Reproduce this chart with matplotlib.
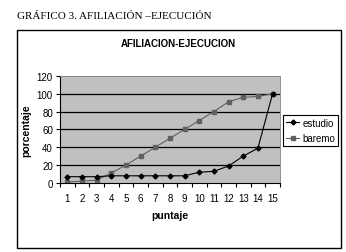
import numpy as np
import matplotlib
matplotlib.use("Agg")
import matplotlib.pyplot as plt
from matplotlib.patches import Rectangle
from matplotlib.ticker import FixedLocator

# data
puntaje = list(range(1, 16))
estudio = [7, 7, 7, 8, 8, 8, 8, 8, 8, 12, 13, 19, 30, 39, 100]
baremo = [1, 2, 3, 11, 20, 30, 40, 50, 60, 70, 80, 91, 96, 97, 100]
y_ticks = [0, 20, 40, 60, 80, 100, 120]

sans = ['Liberation Sans Narrow', 'Liberation Sans', 'DejaVu Sans']

fig = plt.figure(figsize=(3.46, 2.53), dpi=100)

# outer chart frame
fig.patches.append(Rectangle((0.049, 0.016), 0.937, 0.861, transform=fig.transFigure,
                             fill=False, edgecolor='black', linewidth=1.0))

fig.text(0.049, 0.935, 'GRÁFICO 3. AFILIACIÓN –EJECUCIÓN', family='Liberation Serif',
         fontsize=8, ha='left', va='center')
fig.text(0.515, 0.825, 'AFILIACION-EJECUCION', family=sans, fontweight='bold',
         fontsize=7, ha='center', va='center')

ax = fig.add_axes([0.173, 0.273, 0.636, 0.423])
ax.set_facecolor('#c0c0c0')
for y in y_ticks[1:-1]:
    ax.axhline(y, color='black', linewidth=0.9, zorder=1)

ax.plot(puntaje, estudio, color='black', linewidth=0.8, marker='D', markersize=2.5,
        label='estudio', zorder=3)
ax.plot(puntaje, baremo, color='#606060', linewidth=0.8, marker='s', markersize=3,
        label='baremo', zorder=2)

ax.set_xlim(0.5, 15.5)
ax.set_ylim(0, 120)
ax.xaxis.set_major_locator(FixedLocator(np.arange(0.5, 16, 1)))
ax.xaxis.set_minor_locator(FixedLocator(puntaje))
ax.set_xticklabels([])
ax.set_xticklabels([str(p) for p in puntaje], minor=True)
ax.tick_params(axis='x', which='major', direction='out', length=3, width=0.8)
ax.tick_params(axis='x', which='minor', length=0, pad=7, labelsize=7)
ax.set_yticks(y_ticks)
ax.tick_params(axis='y', direction='out', length=3, width=0.8, labelsize=7, pad=2)
for lbl in ax.get_xticklabels(minor=True) + ax.get_yticklabels():
    lbl.set_family(sans)

for side in ['left', 'bottom']:
    ax.spines[side].set_linewidth(0.8)
for side in ['top', 'right']:
    ax.spines[side].set_color('#808080')
    ax.spines[side].set_linewidth(0.6)

ax.set_xlabel('puntaje', family=sans, fontweight='bold', fontsize=7.5, labelpad=5)
ax.set_ylabel('porcentaje', family=sans, fontweight='bold', fontsize=7.5, labelpad=4)

leg = fig.legend(loc='center left', bbox_to_anchor=(0.812, 0.48), frameon=True,
                 fancybox=False, edgecolor='black', framealpha=1, borderpad=0.3,
                 handlelength=1.4, handletextpad=0.3, labelspacing=0.6,
                 borderaxespad=0.2, prop={'family': sans, 'size': 7})
leg.get_frame().set_linewidth(0.8)

fig.savefig('out.png', dpi=100)
